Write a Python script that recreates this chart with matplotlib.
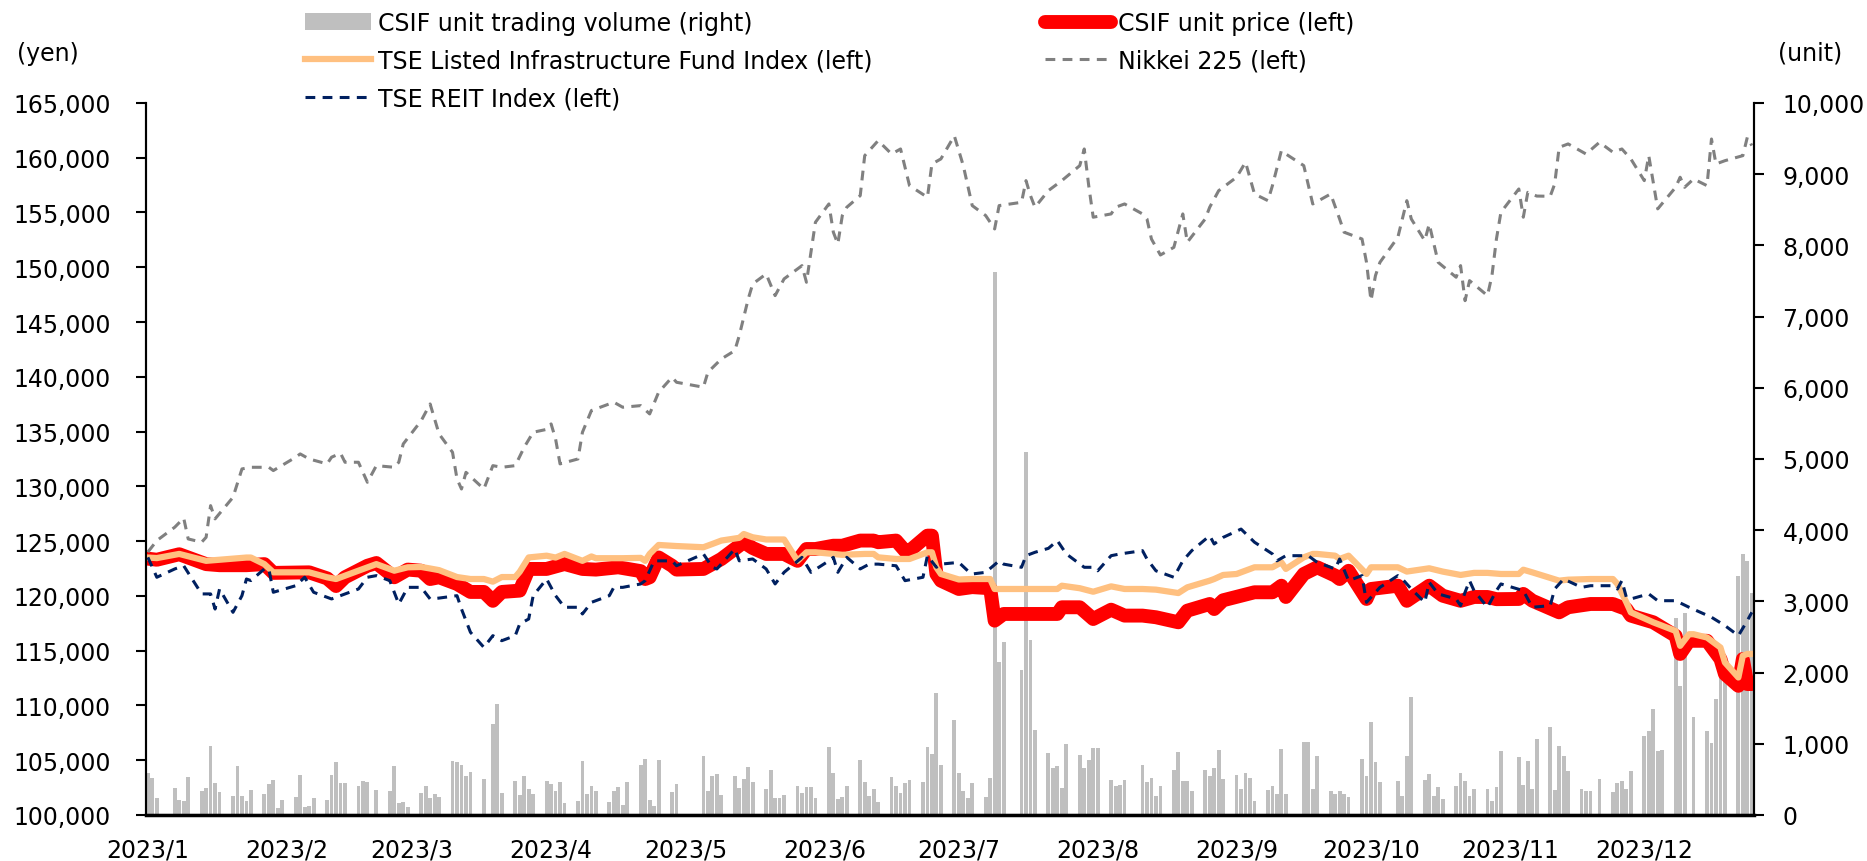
import pandas as pd
import matplotlib
matplotlib.use("Agg")
import matplotlib.pyplot as plt
from matplotlib.ticker import FuncFormatter, MultipleLocator

plt.rcParams['font.family'] = ['DejaVu Sans']

# TSE trading calendar 2023 (weekday holidays)
holidays = ["2023-01-09", "2023-02-23", "2023-03-21", "2023-05-03", "2023-05-04",
            "2023-05-05", "2023-07-17", "2023-08-11", "2023-09-18", "2023-10-09",
            "2023-11-03", "2023-11-23"]
trade_days = pd.bdate_range("2023-01-04", "2023-12-28")
trade_days = trade_days[~trade_days.isin(pd.to_datetime(holidays))]

# CSIF daily trading volume (units), one value per trading day
volume = [
    590, 520, 240,
    380, 215, 190, 530,
    340, 375, 965, 450, 320,
    260, 690, 270, 200, 350,
    295, 435, 495, 95, 210,
    250, 560, 110, 120, 240,
    210, 560, 750, 450, 450,
    410, 480, 460, 350,
    340, 685, 170, 180, 110,
    305, 400, 235, 295, 250,
    765, 750, 705, 545, 600,
    505, 1280, 1560, 310,
    480, 285, 545, 365, 295,
    480, 435, 330, 470, 165,
    190, 765, 295, 410, 330,
    180, 330, 390, 140, 460,
    705, 785, 210, 120, 770,
    320, 435,
    835, 330, 545, 575, 285,
    545, 375, 505, 680, 470,
    365, 625, 240, 240, 285,
    400, 310, 390, 390, 235,
    950, 590, 225, 250, 400,
    770, 470, 270, 365, 185,
    530, 410, 305, 450, 490,
    460, 950, 850, 1720, 695,
    1335, 585, 330, 235, 450,
    250, 520, 7630, 2145, 2435,
    2035, 5100, 2460, 1200,
    870, 660, 685, 380, 1000,
    845, 660, 775, 940, 935,
    495, 400, 420, 495,
    705, 470, 515, 260, 410,
    635, 880, 475, 475, 330,
    625, 550, 655, 910, 505,
    560, 365, 590, 520, 200,
    355, 400, 295, 925, 295,
    1030, 1030, 365, 835,
    330, 295, 340, 295, 255,
    785, 550, 1300, 740, 460,
    480, 270, 825, 1650,
    495, 575, 270, 390, 225,
    410, 585, 480, 270, 365,
    365, 200, 390, 895,
    810, 425, 755, 365, 1060,
    1230, 355, 965, 835, 615,
    365, 330, 330, 505,
    320, 445, 475, 365, 615,
    1105, 1185, 1490, 895, 910,
    2765, 1805, 2835, 0, 1370,
    1175, 1010, 1630, 1920, 1895,
    3360, 3665, 3570, 3120,
]

# CSIF unit price (yen)
price_dates = ["01-04", "01-06", "01-11", "01-17", "01-20", "01-26", "01-30", "02-01", "02-09", "02-13",
               "02-15", "02-17", "02-22", "02-24", "02-28", "03-03", "03-06", "03-08", "03-10", "03-14",
               "03-17", "03-20", "03-22", "03-24", "03-28", "03-30", "04-03", "04-07", "04-11", "04-14",
               "04-19", "04-24", "04-25", "04-26", "04-28", "05-01", "05-02", "05-08", "05-10", "05-12",
               "05-17", "05-19", "05-22", "05-26", "05-29", "05-31", "06-02", "06-06", "06-08", "06-12",
               "06-15", "06-16", "06-20", "06-22", "06-23", "06-27", "06-28", "06-29", "06-30", "07-04",
               "07-07", "07-11", "07-12", "07-14", "07-26", "07-27", "07-31", "08-03", "08-07", "08-10",
               "08-14", "08-17", "08-22", "08-24", "08-29", "08-30", "09-01", "09-08", "09-12", "09-14",
               "09-15", "09-19", "09-22", "09-26", "09-27", "09-29", "10-03", "10-04", "10-10", "10-12",
               "10-17", "10-20", "10-24", "10-27", "10-30", "11-01", "11-06", "11-07", "11-09", "11-15",
               "11-17", "11-22", "11-27", "11-28", "11-30", "12-01", "12-06", "12-11", "12-12", "12-14",
               "12-18", "12-21", "12-22", "12-25", "12-26", "12-27", "12-28"]
price_values = [123400, 123300, 123800, 122900, 122800, 122800, 122900, 122100, 122150, 121600,
                120900, 121700, 122750, 123000, 121700, 122400, 122300, 121540, 121700, 121090,
                120360, 120360, 119550, 120360, 120480, 122460, 122460, 122910, 122460, 122400,
                122610, 122260, 121540, 121700, 123510, 122750, 122400, 122460, 122910, 123370,
                124900, 124370, 123830, 123830, 123200, 124280, 124280, 124580, 124580, 125050,
                125050, 124900, 125050, 124110, 124110, 125500, 125500, 122000, 121390, 120630,
                120800, 120700, 117740, 118350, 118350, 118960, 118960, 117890, 118740, 118200,
                118200, 118050, 117590, 118650, 119260, 118800, 119600, 120330, 120330, 120930,
                119900, 122000, 122610, 121850, 121540, 122290, 119720, 120630, 120930, 119550,
                120930, 120020, 119550, 119900, 119900, 119700, 119720, 120180, 119560, 118500,
                118960, 119260, 119260, 119100, 118800, 118200, 117590, 116350, 114700, 115900,
                115900, 114240, 112870, 111790, 114240, 111950, 111950]

# TSE Listed Infrastructure Fund Index (rebased, yen)
infra_dates = ["01-04", "01-06", "01-11", "01-17", "01-20", "01-26", "01-27", "01-30", "02-01", "02-09",
               "02-13", "02-15", "02-20", "02-24", "02-28", "03-03", "03-06", "03-08", "03-10", "03-14",
               "03-17", "03-20", "03-22", "03-24", "03-27", "03-28", "03-30", "04-03", "04-05", "04-07",
               "04-11", "04-13", "04-14", "04-20", "04-24", "04-25", "04-26", "04-28", "05-02", "05-08",
               "05-10", "05-12", "05-16", "05-17", "05-19", "05-22", "05-26", "05-29", "05-31", "06-02",
               "06-06", "06-08", "06-13", "06-15", "06-16", "06-20", "06-23", "06-27", "06-28", "06-29",
               "06-30", "07-04", "07-07", "07-11", "07-12", "07-26", "07-27", "07-31", "08-03", "08-07",
               "08-10", "08-14", "08-17", "08-22", "08-24", "08-29", "08-30", "09-01", "09-04", "09-08",
               "09-12", "09-14", "09-15", "09-19", "09-21", "09-22", "09-26", "09-27", "09-29", "10-03",
               "10-04", "10-10", "10-12", "10-17", "10-20", "10-24", "10-27", "10-30", "11-02", "11-06",
               "11-07", "11-09", "11-15", "11-17", "11-22", "11-27", "11-28", "11-30", "12-01", "12-06",
               "12-11", "12-12", "12-14", "12-15", "12-18", "12-21", "12-22", "12-25", "12-26", "12-27",
               "12-28"]
infra_values = [123500, 123450, 123830, 123200, 123300, 123500, 123500, 122900, 122150, 122150,
                121700, 121540, 122300, 122900, 122300, 122610, 122640, 122500, 122350, 121720,
                121540, 121540, 121300, 121720, 121720, 122200, 123510, 123670, 123500, 123830,
                123200, 123600, 123440, 123440, 123470, 123200, 123830, 124650, 124550, 124440,
                124740, 125050, 125300, 125650, 125350, 125150, 125150, 123200, 123980, 123980,
                123830, 123750, 123830, 123830, 123520, 123370, 123370, 123980, 123980, 122600,
                122000, 121500, 121540, 121540, 120630, 120630, 120930, 120700, 120380, 120870,
                120630, 120630, 120570, 120260, 120780, 121390, 121540, 121910, 122000, 122610,
                122610, 123060, 122460, 123520, 123830, 123830, 123670, 123370, 123670, 122000,
                122610, 122610, 122220, 122520, 122220, 121910, 122100, 122100, 122000, 122000,
                122390, 122150, 121390, 121480, 121540, 121540, 121090, 119410, 118500, 117590,
                116800, 115440, 116500, 116500, 116200, 115290, 113920, 112550, 114540, 114700,
                114700]

# Nikkei 225 (rebased, yen)
nikkei_dates = ["01-04", "01-06", "01-10", "01-12", "01-13", "01-16", "01-17", "01-18", "01-19", "01-23",
                "01-25", "01-27", "01-31", "02-01", "02-06", "02-07", "02-09", "02-13", "02-14", "02-16",
                "02-17", "02-20", "02-22", "02-24", "02-28", "03-01", "03-02", "03-06", "03-08", "03-10",
                "03-13", "03-14", "03-15", "03-16", "03-20", "03-22", "03-24", "03-27", "03-29", "03-31",
                "04-03", "04-04", "04-05", "04-06", "04-10", "04-11", "04-13", "04-18", "04-20", "04-24",
                "04-26", "04-28", "05-01", "05-02", "05-08", "05-09", "05-12", "05-15", "05-16", "05-18",
                "05-19", "05-22", "05-24", "05-26", "05-30", "05-31", "06-01", "06-02", "06-05", "06-06",
                "06-07", "06-08", "06-09", "06-12", "06-13", "06-16", "06-19", "06-21", "06-23", "06-27",
                "06-28", "06-30", "07-03", "07-05", "07-07", "07-10", "07-12", "07-13", "07-18", "07-19",
                "07-20", "07-21", "07-24", "07-27", "07-31", "08-01", "08-02", "08-03", "08-07", "08-08",
                "08-10", "08-14", "08-15", "08-16", "08-18", "08-21", "08-23", "08-24", "08-28", "08-29",
                "08-31", "09-04", "09-06", "09-08", "09-11", "09-12", "09-14", "09-15", "09-19", "09-21",
                "09-25", "09-27", "09-28", "10-02", "10-03", "10-04", "10-05", "10-06", "10-10", "10-12",
                "10-13", "10-16", "10-17", "10-19", "10-23", "10-24", "10-25", "10-26", "10-30", "10-31",
                "11-01", "11-02", "11-06", "11-07", "11-08", "11-10", "11-13", "11-14", "11-15", "11-17",
                "11-21", "11-24", "11-27", "11-29", "12-01", "12-04", "12-05", "12-06", "12-07", "12-11",
                "12-12", "12-13", "12-15", "12-18", "12-19", "12-20", "12-22", "12-26", "12-27", "12-28"]
nikkei_values = [124000, 125050, 126270, 127100, 125200, 124900, 125350, 128240, 127030, 129000,
                 131590, 131740, 131740, 131440, 132660, 132960, 132500, 132050, 132660, 133020,
                 132200, 132200, 130370, 131890, 131740, 132200, 133870, 135990, 137520, 134780,
                 133110, 130680, 129760, 131280, 129760, 131890, 131740, 131890, 133570, 134940,
                 135200, 135700, 134330, 132050, 132500, 134940, 136920, 137680, 137220, 137370,
                 136610, 138590, 139960, 139500, 139050, 140420, 141630, 142390, 143760, 147110,
                 148480, 149390, 147410, 148940, 150150, 148630, 151370, 154110, 155780, 153200,
                 152130, 154720, 155480, 156540, 160190, 161560, 160340, 160800, 157450, 156390,
                 159430, 159890, 162000, 159280, 155630, 154720, 153500, 155630, 155930, 157910,
                 156540, 155480, 157000, 157910, 159280, 160800, 157450, 154570, 154870, 155480,
                 155780, 154870, 154410, 152580, 151120, 151820, 154870, 152280, 154410, 155480,
                 156990, 158220, 159590, 156690, 156080, 157450, 160650, 160340, 159280, 155780,
                 156690, 154410, 153200, 152580, 150450, 146950, 149240, 150450, 152740, 156080,
                 154410, 152430, 153950, 150450, 149090, 150150, 146950, 148780, 147410, 149240,
                 152580, 155020, 157150, 154570, 156840, 156500, 156480, 157600, 160950, 161260,
                 160340, 161410, 160500, 160800, 159890, 157910, 160190, 157760, 155330, 157300,
                 158220, 157300, 158060, 157450, 161710, 159430, 159730, 160190, 161870, 161110]

# TSE REIT Index (rebased, yen)
reit_dates = ["01-04", "01-06", "01-10", "01-12", "01-16", "01-18", "01-19", "01-20", "01-23", "01-25",
              "01-26", "01-27", "01-30", "01-31", "02-01", "02-06", "02-08", "02-10", "02-14", "02-16",
              "02-20", "02-22", "02-24", "02-27", "03-01", "03-03", "03-06", "03-08", "03-10", "03-14",
              "03-15", "03-17", "03-20", "03-22", "03-24", "03-27", "03-28", "03-30", "03-31", "04-03",
              "04-05", "04-07", "04-10", "04-11", "04-13", "04-17", "04-18", "04-20", "04-24", "04-25",
              "04-27", "05-01", "05-02", "05-08", "05-10", "05-11", "05-15", "05-16", "05-19", "05-22",
              "05-24", "05-26", "05-30", "06-01", "06-05", "06-06", "06-07", "06-09", "06-12", "06-14",
              "06-16", "06-20", "06-22", "06-26", "06-27", "06-29", "06-30", "07-04", "07-06", "07-07",
              "07-10", "07-13", "07-14", "07-18", "07-19", "07-21", "07-24", "07-26", "07-28", "08-01",
              "08-03", "08-04", "08-07", "08-09", "08-14", "08-15", "08-17", "08-21", "08-23", "08-25",
              "08-29", "08-30", "09-01", "09-05", "09-08", "09-12", "09-13", "09-15", "09-20", "09-22",
              "09-26", "09-27", "09-29", "10-02", "10-03", "10-06", "10-10", "10-11", "10-13", "10-16",
              "10-17", "10-19", "10-23", "10-24", "10-25", "10-26", "10-27", "10-30", "11-01", "11-02",
              "11-07", "11-09", "11-13", "11-14", "11-16", "11-20", "11-22", "11-27", "11-28", "11-29",
              "11-30", "12-01", "12-05", "12-07", "12-11", "12-14", "12-19", "12-22", "12-25", "12-27",
              "12-28"]
reit_values = [123520, 121700, 122460, 122750, 120180, 120180, 118800, 120630, 118500, 120020,
               121540, 121400, 122460, 122460, 120330, 120930, 121700, 120330, 119720, 120020,
               120630, 121700, 121850, 121390, 119260, 120780, 120780, 119720, 119800, 120020,
               118800, 116680, 115300, 116370, 115910, 116370, 117440, 117890, 120020, 121540,
               120020, 118960, 118960, 118350, 119410, 120020, 120780, 120780, 121090, 121390,
               123200, 123200, 122750, 123830, 122600, 122460, 124280, 123200, 123370, 122460,
               121090, 122150, 123520, 122150, 123200, 123520, 122150, 123520, 122460, 122900,
               122900, 122750, 121390, 121700, 123670, 122610, 122900, 123060, 122290, 122000,
               122150, 123200, 122900, 122610, 123670, 123980, 124340, 125040, 123830, 122610,
               122610, 122290, 123670, 123830, 124130, 123370, 122290, 121700, 123200, 124130,
               125490, 124740, 125340, 126100, 124900, 123830, 123200, 123670, 123670, 123060,
               122460, 123370, 121390, 121850, 119410, 120780, 121850, 121540, 120630, 119410,
               121240, 120180, 119720, 119110, 120330, 121390, 120480, 118960, 120480, 121090,
               120480, 118960, 119110, 120630, 121540, 120780, 120930, 120930, 120630, 121390,
               119870, 119720, 120180, 119560, 119560, 118960, 118050, 117290, 116370, 117740,
               118500]


def to_dates(days):
    return pd.to_datetime(["2023-" + d for d in days])


fig = plt.figure(figsize=(18.67, 8.62), dpi=100)
ax = fig.add_axes([0.0782, 0.0534, 0.8613, 0.826])
ax2 = ax.twinx()

# volume bars on the right axis, kept behind the price lines
bars = ax2.bar(trade_days, volume, width=0.85, color="#BFBFBF", linewidth=0)
ax.set_zorder(ax2.get_zorder() + 1)
ax.patch.set_visible(False)

price_line, = ax.plot(to_dates(price_dates), price_values, color="#FF0000", lw=10,
                      solid_joinstyle="round", solid_capstyle="round")
infra_line, = ax.plot(to_dates(infra_dates), infra_values, color="#FFC080", lw=4.5,
                      solid_joinstyle="round")
nikkei_line, = ax.plot(to_dates(nikkei_dates), nikkei_values, color="#808080", lw=2.2,
                       dashes=(3.2, 2.4))
reit_line, = ax.plot(to_dates(reit_dates), reit_values, color="#002060", lw=2.2,
                     dashes=(3.2, 2.4))

x0 = pd.Timestamp("2023-01-03 14:00")
x1 = pd.Timestamp("2023-12-28 12:00")
ax.set_xlim(x0, x1)
ax.set_ylim(100000, 165000)
ax2.set_ylim(0, 10000)

ax.yaxis.set_major_locator(MultipleLocator(5000))
ax2.yaxis.set_major_locator(MultipleLocator(1000))
comma = FuncFormatter(lambda v, p: f"{int(v):,}")
ax.yaxis.set_major_formatter(comma)
ax2.yaxis.set_major_formatter(comma)

month_ticks = pd.to_datetime([f"2023-{m:02d}-04" for m in range(1, 13)])
ax.set_xticks(month_ticks)
ax.set_xticklabels([f"2023/{m}" for m in range(1, 13)])

fs = 17
ax.tick_params(axis="x", length=0, pad=16.5, labelsize=fs)
ax.tick_params(axis="y", length=7, width=1.5, pad=18.3, labelsize=fs, direction="out")
ax2.tick_params(axis="y", length=7, width=1.5, pad=13.5, labelsize=fs, direction="out")

for a in (ax, ax2):
    a.spines["top"].set_visible(False)
    for s in ("left", "right", "bottom"):
        a.spines[s].set_linewidth(1.5)
ax.spines["bottom"].set_linewidth(2.5)

fig.text(48 / 1867, 1 - 54 / 862, "(yen)", fontsize=fs, ha="center", va="center")
fig.text(1810 / 1867, 1 - 54 / 862, "(unit)", fontsize=fs, ha="center", va="center")

handles = [bars, infra_line, reit_line, price_line, nikkei_line]
labels = ["CSIF unit trading volume (right)", "TSE Listed Infrastructure Fund Index (left)",
          "TSE REIT Index (left)", "CSIF unit price (left)", "Nikkei 225 (left)"]
fig.legend(handles, labels, ncol=2, loc="upper left", bbox_to_anchor=(293 / 1867, 1.0),
           frameon=False, fontsize=17, borderpad=0, handlelength=2.8, handletextpad=0.3,
           columnspacing=7.3, labelspacing=0.59)

fig.savefig("out.png", dpi=100)
